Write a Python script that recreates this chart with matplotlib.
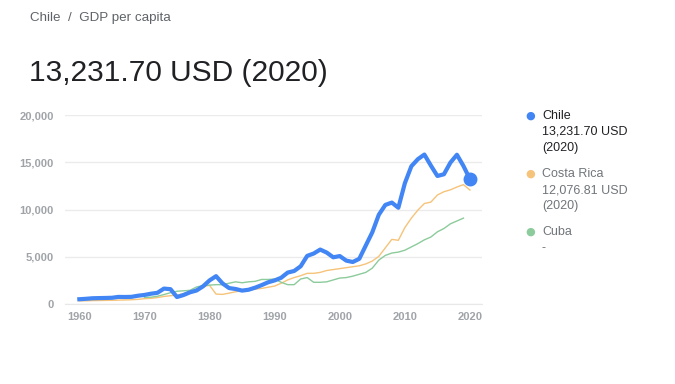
import matplotlib
matplotlib.use("Agg")
import matplotlib.pyplot as plt
from matplotlib.ticker import FuncFormatter

years = list(range(1960, 2021))

chile = [505, 550, 608, 626, 640, 660, 752, 743, 757, 876,
         960, 1091, 1186, 1634, 1570, 740, 950, 1240, 1430, 1870,
         2500, 2950, 2180, 1690, 1590, 1420, 1510, 1730, 2000, 2300,
         2500, 2780, 3330, 3500, 4000, 5100, 5350, 5770, 5450, 4950,
         5080, 4600, 4450, 4790, 6200, 7600, 9460, 10500, 10750, 10200,
         12800, 14600, 15350, 15840, 14670, 13570, 13750, 14990, 15820, 14630,
         13231.70]

costa_rica = [330, 340, 360, 370, 380, 390, 410, 430, 450, 490,
              560, 600, 680, 800, 880, 930, 1100, 1350, 1600, 1850,
              1980, 1050, 1020, 1150, 1300, 1400, 1500, 1580, 1650, 1780,
              1900, 2200, 2550, 2800, 3000, 3250, 3250, 3350, 3550, 3650,
              3750, 3850, 3950, 4050, 4250, 4550, 5050, 5950, 6850, 6750,
              8100, 9100, 9950, 10650, 10800, 11550, 11900, 12100, 12400, 12650,
              12076.81]

cuba_years = list(range(1970, 2020))
cuba = [700, 720, 820, 1000, 1200, 1350, 1400, 1450, 1800, 1950,
        2000, 2050, 2050, 2200, 2350, 2250, 2350, 2400, 2600, 2600,
        2650, 2300, 2050, 2050, 2650, 2800, 2300, 2300, 2350, 2550,
        2750, 2800, 2950, 3150, 3350, 3800, 4650, 5150, 5400, 5500,
        5700, 6050, 6400, 6800, 7100, 7650, 8000, 8500, 8800, 9100]

y_ticks = [0, 5000, 10000, 15000, 20000]
x_ticks = [1960, 1970, 1980, 1990, 2000, 2010, 2020]

c_chile = "#4285f4"
c_cr = "#f6c37a"
c_cuba = "#8ccb9b"
grey = "#a0a4a8"

plt.rcParams['font.family'] = ['Liberation Sans', 'DejaVu Sans']

fig = plt.figure(figsize=(6.75, 3.84), dpi=100)
ax = fig.add_axes([65/675, 1-304/384, 417/675, (304-115.3)/384])

ax.plot(years, costa_rica, color=c_cr, lw=1.0, zorder=2)
ax.plot(cuba_years, cuba, color=c_cuba, lw=1.0, zorder=2)
ax.plot(years, chile, color=c_chile, lw=3.0, zorder=3, solid_joinstyle='round')
ax.plot([years[-1]], [chile[-1]], 'o', color=c_chile, ms=9, zorder=4)

ax.set_xlim(1957.8, 2021.85)
ax.set_ylim(0, 20000)
ax.set_yticks(y_ticks)
ax.set_xticks(x_ticks)
ax.yaxis.set_major_formatter(FuncFormatter(lambda v, p: f"{int(v):,}"))
ax.grid(axis='y', color='#ebebeb', lw=1)
ax.set_axisbelow(True)
for s in ['top', 'right', 'left']:
    ax.spines[s].set_visible(False)
ax.spines['bottom'].set_color('#e8e8e8')
ax.tick_params(axis='both', length=0, colors=grey, labelsize=8)
ax.tick_params(axis='y', pad=8)
ax.tick_params(axis='x', pad=6)
for lab in ax.get_xticklabels() + ax.get_yticklabels():
    lab.set_fontweight('bold')

fig.text(30/675, 1-18/384, "Chile  /  GDP per capita", fontsize=9.6, color="#5f6368", va='center', ha='left')
fig.text(29/675, 1-73/384, "13,231.70 USD (2020)", fontsize=21.5, color="#202124", va='center', ha='left')

# legend
legend = [("Chile", ["13,231.70 USD", "(2020)"], c_chile, "#202124", 116),
          ("Costa Rica", ["12,076.81 USD", "(2020)"], c_cr, "#70757a", 174),
          ("Cuba", ["-"], c_cuba, "#70757a", 232)]
for name, lines, col, tcol, y0 in legend:
    fig.text(530/675, 1-y0/384, "\u25CF", fontsize=8, color=col, ha='center', va='center',
             family='DejaVu Sans')
    fig.text(542/675, 1-y0/384, name, fontsize=9, color=tcol, ha='left', va='center')
    for i, l in enumerate(lines):
        fig.text(542/675, 1-(y0+16*(i+1))/384, l, fontsize=9, color=tcol, ha='left', va='center')

fig.savefig("out.png", dpi=100)
